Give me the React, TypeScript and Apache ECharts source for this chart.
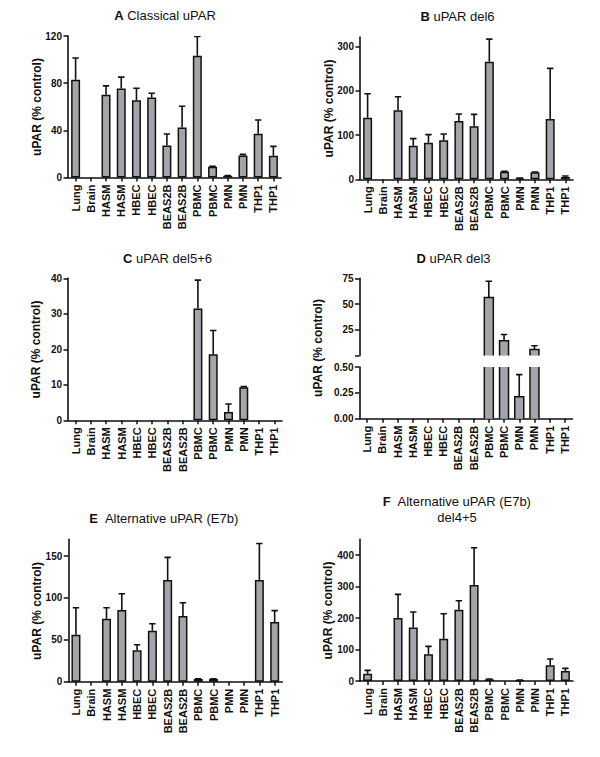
import React, { useEffect, useRef } from "react";
import * as echarts from "echarts";

const categories = ["Lung", "Brain", "HASM", "HASM", "HBEC", "HBEC", "BEAS2B", "BEAS2B", "PBMC", "PBMC", "PMN", "PMN", "THP1", "THP1"];

// A Classical uPAR
const classicalMean = [82.8, 0, 70.1, 75.5, 65.5, 67.8, 27.2, 42.3, 103.3, 9.1, 1.4, 18.7, 37.2, 18.4];
const classicalSem = [18.5, 0, 7.6, 9.6, 10.2, 3.7, 9.7, 18.1, 16.4, 0.3, 0.3, 0.9, 11.6, 8.0];
// B uPAR del6
const del6Mean = [139.4, 0, 156, 76.1, 82.9, 88.2, 131.9, 119.8, 266, 17.3, 2.3, 15.8, 136.4, 5.3];
const del6Sem = [54.3, 0, 30.9, 15.9, 18.1, 14.3, 15.8, 27.2, 51.3, 0.7, 0.7, 0.8, 114.6, 2.2];
// C uPAR del5+6
const del56Mean = [0, 0, 0, 0, 0, 0, 0, 0, 31.5, 18.6, 2.35, 9.3, 0, 0];
const del56Sem = [0, 0, 0, 0, 0, 0, 0, 0, 8.0, 6.7, 2.25, 0.2, 0, 0];
// D uPAR del3 (broken axis)
const del3Mean = [0, 0, 0, 0, 0, 0, 0, 0, 56.3, 14.4, 0.213, 6.0, 0, 0];
const del3Sem = [0, 0, 0, 0, 0, 0, 0, 0, 15.8, 6.1, 0.213, 3.5, 0, 0];
// E Alternative uPAR (E7b)
const e7bMean = [56, 0, 75.2, 85.5, 37.4, 60.9, 121.4, 78.4, 3.2, 3.2, 0, 0, 121.4, 71.2];
const e7bSem = [32.3, 0, 13.1, 19.5, 6.8, 8.3, 27, 15.9, 0.4, 0.4, 0, 0, 43.6, 13.6];
// F Alternative uPAR (E7b) del4+5
const e7bDel45Mean = [23.3, 0, 200, 170, 84.7, 134.4, 226.5, 304.8, 5.3, 0, 2, 0, 49.7, 31.7];
const e7bDel45Sem = [10.6, 0, 75, 49, 25.3, 79.4, 28.5, 118.2, 1, 0, 1, 0, 20.3, 8.3];

// axis ticks
const ticksA = [0, 40, 80, 120];
const ticksB = [0, 100, 200, 300];
const ticksC = [0, 10, 20, 30, 40];
const ticksDTop = [0, 25, 50, 75];
const labelsDTop = [25, 50, 75];
const ticksDBottom = [0, 0.25, 0.5];
const ticksE = [0, 50, 100, 150];
const ticksF = [0, 100, 200, 300, 400];

const FONT = "'Liberation Sans', Arial, Helvetica, sans-serif";
const INK = "#111";
const BAR = "#a4a4a9";
const BAR_W = 9;

function errRender(params: any, api: any) {
  const i = api.value(0);
  const m = api.value(1);
  const s = api.value(2);
  const base = api.coord([i, m]);
  const top = api.coord([i, m + s]);
  const half = 3.2;
  return {
    type: "group",
    children: [
      { type: "line", shape: { x1: base[0], y1: base[1], x2: top[0], y2: top[1] }, style: { stroke: INK, lineWidth: 1.6 } },
      { type: "line", shape: { x1: top[0] - half, y1: top[1], x2: top[0] + half, y2: top[1] }, style: { stroke: INK, lineWidth: 1.6 } },
    ],
  };
}

// bar drawn for the broken axis: no border where the bar is cut by the break
function brokenBarRender(params: any, api: any) {
  const i = api.value(0);
  const v = api.value(1);
  const cs = params.coordSys;
  const pt = api.coord([i, v]);
  const basePt = api.coord([i, 0]);
  const gridTop = cs.y;
  const gridBottom = cs.y + cs.height;
  const cut = pt[1] < gridTop;
  const yTop = Math.max(pt[1], gridTop);
  const yBase = Math.min(basePt[1], gridBottom);
  if (yBase - yTop <= 0.5) return null;
  const l = pt[0] - BAR_W / 2;
  const r = pt[0] + BAR_W / 2;
  const children: any[] = [
    { type: "rect", shape: { x: l, y: yTop, width: BAR_W, height: yBase - yTop }, style: { fill: BAR } },
  ];
  if (cut) {
    children.push({ type: "line", shape: { x1: l, y1: yTop, x2: l, y2: yBase }, style: { stroke: INK, lineWidth: 1.5 } });
    children.push({ type: "line", shape: { x1: r, y1: yTop, x2: r, y2: yBase }, style: { stroke: INK, lineWidth: 1.5 } });
  } else {
    children.push({
      type: "polyline",
      shape: { points: [[l, yBase], [l, yTop], [r, yTop], [r, yBase]] },
      style: { stroke: INK, lineWidth: 1.5, fill: null },
    });
  }
  return { type: "group", children };
}

function errData(mean: number[], sem: number[], keep: (m: number) => boolean) {
  const out: any[] = [];
  mean.forEach((m, i) => {
    if (sem[i] > 0 && keep(m)) out.push([i, m, sem[i]]);
  });
  return out;
}

export default function App() {
  const ref = useRef<HTMLDivElement>(null);
  useEffect(() => {
    if (!ref.current) return;
    const chart = echarts.init(ref.current, undefined, { renderer: "svg" });

    const grids = [
      { left: 68, top: 36, width: 213, height: 141.5 }, // A
      { left: 360, top: 37, width: 213, height: 142.3 }, // B
      { left: 68, top: 278.3, width: 214, height: 142 }, // C
      { left: 359.5, top: 278.3, width: 213, height: 77.3 }, // D top
      { left: 359.5, top: 367, width: 213, height: 51.7 }, // D bottom
      { left: 68.3, top: 539.3, width: 214, height: 142.4 }, // E
      { left: 360, top: 539.3, width: 213, height: 141.7 }, // F
    ].map((g) => ({ ...g, outerBoundsMode: "none", containLabel: false }));

    const xAxis = grids.map((_, gi) => ({
      type: "category",
      gridIndex: gi,
      data: categories,
      show: gi !== 3,
      boundaryGap: true,
      axisLine: { show: true, lineStyle: { color: INK, width: 1.6 } },
      axisTick: { show: true, alignWithLabel: true, length: 4, lineStyle: { color: INK, width: 1.5 } },
      axisLabel: { rotate: 90, interval: 0, margin: 7, fontFamily: FONT, fontWeight: "bold", fontSize: 11, color: INK, hideOverlap: false },
      splitLine: { show: false },
    }));

    const yDefs: any[] = [
      { max: 120, ticks: ticksA, labels: ticksA, fmt: (v: number) => String(v) },
      { max: 322, ticks: ticksB, labels: ticksB, fmt: (v: number) => String(v) },
      { max: 40, ticks: ticksC, labels: ticksC, fmt: (v: number) => String(v) },
      { max: 75, ticks: ticksDTop, labels: labelsDTop, fmt: (v: number) => String(v) },
      { max: 0.5, ticks: ticksDBottom, labels: ticksDBottom, fmt: (v: number) => v.toFixed(2) },
      { max: 170, ticks: ticksE, labels: ticksE, fmt: (v: number) => String(v) },
      { max: 450, ticks: ticksF, labels: ticksF, fmt: (v: number) => String(v) },
    ];
    const yAxis = yDefs.map((d, gi) => ({
      type: "value",
      gridIndex: gi,
      min: 0,
      max: d.max,
      axisLine: { show: true, lineStyle: { color: INK, width: 1.6 } },
      axisTick: { show: true, length: 4.5, customValues: d.ticks, lineStyle: { color: INK, width: 1.5 } },
      axisLabel: { customValues: d.labels, formatter: d.fmt, margin: 6, fontFamily: FONT, fontWeight: "bold", fontSize: 10, color: INK },
      splitLine: { show: false },
    }));

    const panels: [number[], number[]][] = [
      [classicalMean, classicalSem],
      [del6Mean, del6Sem],
      [del56Mean, del56Sem],
      [del3Mean, del3Sem],
      [del3Mean, del3Sem],
      [e7bMean, e7bSem],
      [e7bDel45Mean, e7bDel45Sem],
    ];
    const series: any[] = [];
    panels.forEach(([mean, sem], gi) => {
      let keep = (m: number) => true;
      if (gi === 3) keep = (m: number) => m > 0.5;
      if (gi === 4) keep = (m: number) => m <= 0.5;
      if (gi === 3 || gi === 4) {
        const barData: any[] = [];
        mean.forEach((m, i) => {
          if (m > 0 && (gi === 4 || m > 0.5)) barData.push([i, m]);
        });
        series.push({
          type: "custom",
          xAxisIndex: gi,
          yAxisIndex: gi,
          data: barData,
          encode: { x: 0, y: 1 },
          renderItem: brokenBarRender,
          clip: false,
          z: 2,
        });
      } else {
        series.push({
          type: "bar",
          xAxisIndex: gi,
          yAxisIndex: gi,
          data: mean.map((m) => (m > 0 ? m : "-")),
          barWidth: BAR_W,
          clip: true,
          itemStyle: { color: BAR, borderColor: INK, borderWidth: 1.5 },
          emphasis: { disabled: true },
          z: 2,
        });
      }
      series.push({
        type: "custom",
        xAxisIndex: gi,
        yAxisIndex: gi,
        data: errData(mean, sem, keep),
        encode: { x: 0, y: 1 },
        renderItem: errRender,
        clip: true,
        z: 3,
      });
    });

    const titleStyle = (text: string) => ({
      text,
      font: `13px ${FONT}`,
      fontFamily: FONT,
      fontSize: 13,
      fill: INK,
      align: "center",
      verticalAlign: "middle",
      textAlign: "center",
      textVerticalAlign: "middle",
      lineHeight: 16,
      rich: { b: { fontWeight: "bold", fontSize: 13, fontFamily: FONT, fill: INK } },
    });
    const yTitle = (x: number, y: number) => ({
      type: "text",
      x,
      y,
      rotation: Math.PI / 2,
      style: {
        text: "uPAR (% control)",
        font: `bold 12px ${FONT}`,
        fontFamily: FONT,
        fontSize: 12,
        fontWeight: "bold",
        fill: INK,
        align: "center",
        verticalAlign: "middle",
        textAlign: "center",
        textVerticalAlign: "middle",
      },
    });

    const graphic = [
      { type: "text", x: 165, y: 15, style: titleStyle("{b|A} Classical uPAR") },
      { type: "text", x: 457.5, y: 16, style: titleStyle("{b|B} uPAR del6") },
      { type: "text", x: 167.5, y: 258, style: titleStyle("{b|C} uPAR del5+6") },
      { type: "text", x: 453.5, y: 258, style: titleStyle("{b|D} uPAR del3") },
      { type: "text", x: 164, y: 518.5, style: titleStyle("{b|E}  Alternative uPAR (E7b)") },
      { type: "text", x: 457, y: 509.5, style: titleStyle("{b|F}  Alternative uPAR (E7b)\ndel4+5") },
      yTitle(36.7, 107),
      yTitle(328.5, 108.5),
      yTitle(36, 349.5),
      yTitle(317.7, 348),
      yTitle(36.7, 611),
      yTitle(328.3, 610.5),
    ];

    chart.setOption({
      animation: false,
      backgroundColor: "#fff",
      grid: grids,
      xAxis,
      yAxis,
      series,
      graphic,
    });
    return () => chart.dispose();
  }, []);
  return <div ref={ref} style={{ position: "absolute", left: 0, top: 0, width: 600, height: 757 }} />;
}
